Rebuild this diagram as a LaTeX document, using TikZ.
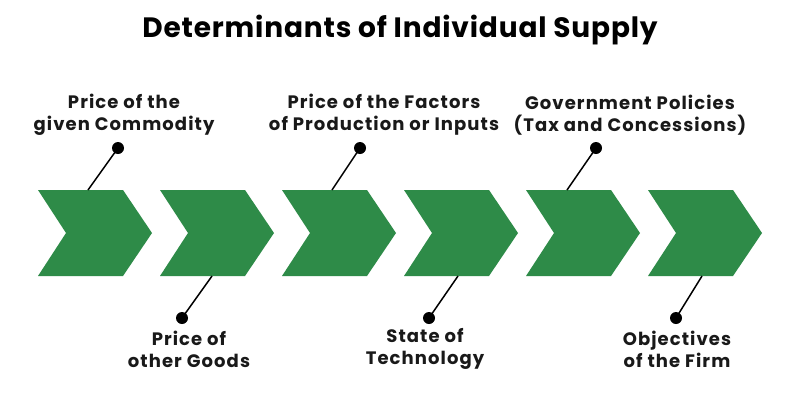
\documentclass[tikz,border=0pt]{standalone}
\usepackage{fontspec}
\setmainfont{Poppins}
\newfontfamily\labfont[LetterSpace=6]{Poppins}
\newfontfamily\titfont[LetterSpace=3]{Poppins}
\definecolor{chev}{RGB}{46,139,72}
\begin{document}
\begin{tikzpicture}[x=1pt,y=-1pt,
  dot/.style={circle,fill=black,inner sep=0pt,minimum size=12pt},
  lab/.style={align=center,inner sep=0pt,font=\labfont\fontsize{18}{22}\selectfont\bfseries,text=black!90},
  conn/.style={line width=1.5pt,black}]
\useasboundingbox (0,0) rectangle (800,400);
\fill[white] (0,0) rectangle (800,400);
\node[font=\titfont\fontsize{28}{32}\selectfont\bfseries] (title) at (400,30) {Determinants of Individual Supply};
\foreach \i/\x in {1/38,2/160,3/282,4/404,5/526,6/648}{
  \fill[chev] (\x,190) -- ++(85,0) -- ++(29,43) -- ++(-29,43) -- ++(-85,0) -- ++(28,-43) -- cycle;
  \coordinate (t\i) at (\x+50,190);
  \coordinate (b\i) at (\x+54,276);
}
% top
\node[dot] (d1) at (118,148) {};
\node[dot] (d3) at (360,148) {};
\node[dot] (d5) at (596,148) {};
\draw[conn] (d1.center) -- (t1);
\draw[conn] (d3.center) -- (t3);
\draw[conn] (d5.center) -- ([xshift=-9pt]t5);
\node[lab] (l1) at (124,115) {Price of the\\given Commodity};
\node[lab] (l3) at (384,115) {Price of the Factors\\of Production or Inputs};
\node[lab] (l5) at (630,115) {Government Policies\\(Tax and Concessions)};
% bottom
\node[dot] (d2) at (182,318) {};
\node[dot] (d4) at (429,318) {};
\node[dot] (d6) at (676,318) {};
\draw[conn] (d2.center) -- ([xshift=-2pt]b2);
\draw[conn] (d4.center) -- (b4);
\draw[conn] (d6.center) -- (b6);
\node[lab] (l2) at (189,349) {Price of\\other Goods};
\node[lab] (l4) at (425,349) {State of\\Technology};
\node[lab] (l6) at (677,349) {Objectives\\of the Firm};
\end{tikzpicture}
\end{document}
